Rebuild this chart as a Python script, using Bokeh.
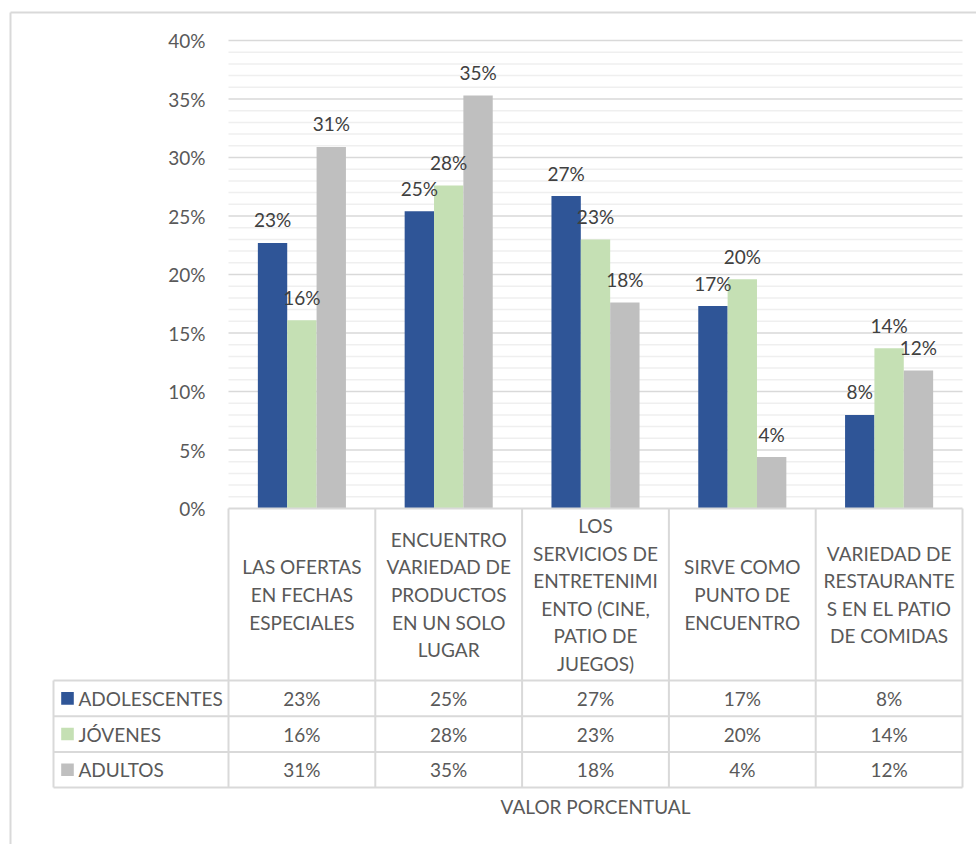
from bokeh.plotting import figure
from bokeh.models import Range1d, LinearAxis, FixedTicker, NumeralTickFormatter, ColumnDataSource
from bokeh.core.properties import value
from bokeh.embed import file_html
from bokeh.resources import INLINE

# ---------------- data ----------------
categories = [
    "LAS OFERTAS\nEN FECHAS\nESPECIALES",
    "ENCUENTRO\nVARIEDAD DE\nPRODUCTOS\nEN UN SOLO\nLUGAR",
    "LOS\nSERVICIOS DE\nENTRETENIMI\nENTO (CINE,\nPATIO DE\nJUEGOS)",
    "SIRVE COMO\nPUNTO DE\nENCUENTRO",
    "VARIEDAD DE\nRESTAURANTE\nS EN EL PATIO\nDE COMIDAS",
]
series_names = ["ADOLESCENTES", "JÓVENES", "ADULTOS"]
adolescentes = [0.227, 0.254, 0.267, 0.173, 0.080]
jovenes = [0.161, 0.276, 0.230, 0.196, 0.137]
adultos = [0.309, 0.353, 0.176, 0.044, 0.118]
y_ticks = [0.0, 0.05, 0.10, 0.15, 0.20, 0.25, 0.30, 0.35, 0.40]
axis_title = "VALOR PORCENTUAL"

series_values = [adolescentes, jovenes, adultos]
colors = ["#2F5597", "#C5E0B4", "#BFBFBF"]

# ---------------- layout constants ----------------
W, H = 976, 844
CAT_PX = 146.8          # pixel width of one category column
PLOT_LEFT = 228         # px of the value axis origin
PLOT_BOTTOM = 508       # px of 0 %
PX_PER_UNIT_Y = 1170.0  # pixels per 100 %

FONT = value("Lato")
TXT = "#595959"
LINE = "#D9D9D9"
FS = "19px"

x_range = Range1d(-PLOT_LEFT / CAT_PX, (W - PLOT_LEFT) / CAT_PX)
y_range = Range1d(-(H - PLOT_BOTTOM) / PX_PER_UNIT_Y, PLOT_BOTTOM / PX_PER_UNIT_Y)

p = figure(width=W, height=H, x_range=x_range, y_range=y_range,
           output_backend="svg", toolbar_location=None,
           x_axis_location=None, y_axis_location=None,
           min_border_left=0, min_border_right=0, min_border_top=0, min_border_bottom=0)
p.outline_line_color = None
p.xgrid.visible = False
p.ygrid.visible = False
# pixel-based helper ranges for table & frame (0 at plot origin, y downward)
p.extra_x_ranges = {"px": Range1d(-PLOT_LEFT, W - PLOT_LEFT)}
p.extra_y_ranges = {"px": Range1d(H - PLOT_BOTTOM, -PLOT_BOTTOM)}

n = len(categories)
cat_center = [i + 0.5 for i in range(n)]

# ---------------- grid lines ----------------
minor_y = [k / 100 for k in range(1, 41) if k % 5 != 0]
major_y = [t for t in y_ticks if t > 0]
p.segment(x0=[0] * len(minor_y), x1=[n] * len(minor_y), y0=minor_y, y1=minor_y,
          line_color="#EFEFEF", line_width=1.5)
p.segment(x0=[0] * len(major_y), x1=[n] * len(major_y), y0=major_y, y1=major_y,
          line_color=LINE, line_width=1.5)

# ---------------- y axis ----------------
yax = LinearAxis(fixed_location=0, ticker=FixedTicker(ticks=y_ticks),
                 formatter=NumeralTickFormatter(format="0%"))
yax.axis_line_color = None
yax.major_tick_line_color = None
yax.minor_tick_line_color = None
yax.major_label_standoff = 17
yax.major_label_text_font = "Lato"
yax.major_label_text_font_size = FS
yax.major_label_text_color = TXT
p.add_layout(yax, "left")

# ---------------- bars ----------------
bar_w = 0.2
offsets = [-0.2, 0.0, 0.2]
for vals, col, off in zip(series_values, colors, offsets):
    src = ColumnDataSource(dict(x=[c + off for c in cat_center], top=vals))
    p.vbar(x="x", top="top", bottom=0, width=bar_w, source=src,
           fill_color=col, line_color=None)
for vals, off in zip(series_values, offsets):
    src = ColumnDataSource(dict(x=[c + off for c in cat_center], top=vals,
                                lab=[f"{v:.0%}" for v in vals]))
    p.text(x="x", y="top", text="lab", source=src, text_align="center",
           text_baseline="middle", y_offset=-23, text_font=FONT,
           text_font_size=FS, text_color="#404040")

# ---------------- data table ----------------
HEADER_H = 172
ROW_H = 35.7
rows_y = [HEADER_H + ROW_H * k for k in range(len(series_names) + 1)]
legend_left_px = -175
table_bottom = rows_y[-1]

# horizontal lines
p.segment(x0=[0], x1=[n], y0=[0], y1=[0], line_color=LINE, line_width=2)
hx0 = [legend_left_px] * len(rows_y)
hx1 = [n * CAT_PX] * len(rows_y)
p.segment(x0=hx0, x1=hx1, y0=rows_y, y1=rows_y, line_color=LINE, line_width=2,
          x_range_name="px", y_range_name="px")
# vertical lines
vx = [c * CAT_PX for c in range(n + 1)]
p.segment(x0=vx, x1=vx, y0=[0] * len(vx), y1=[table_bottom] * len(vx),
          line_color=LINE, line_width=2, x_range_name="px", y_range_name="px")
p.segment(x0=[legend_left_px], x1=[legend_left_px], y0=[rows_y[0]], y1=[table_bottom],
          line_color=LINE, line_width=2, x_range_name="px", y_range_name="px")

# category headers
p.text(x=[c * CAT_PX for c in cat_center], y=[HEADER_H / 2] * n, text=categories,
       text_align="center", text_baseline="middle", text_line_height=1.2,
       text_font=FONT, text_font_size=FS, text_color=TXT,
       x_range_name="px", y_range_name="px")

# rows
row_centers = [(rows_y[k] + rows_y[k + 1]) / 2 for k in range(len(series_names))]
p.rect(x=[-161] * 3, y=row_centers, width=12.6, height=12.6, fill_color=colors,
       line_color=None, x_range_name="px", y_range_name="px")
p.text(x=[-150] * 3, y=row_centers, text=series_names, text_align="left",
       text_baseline="middle", text_font=FONT, text_font_size=FS, text_color=TXT,
       x_range_name="px", y_range_name="px")
for k, vals in enumerate(series_values):
    p.text(x=[c * CAT_PX for c in cat_center], y=[row_centers[k]] * n,
           text=[f"{v:.0%}" for v in vals], text_align="center",
           text_baseline="middle", text_font=FONT, text_font_size=FS, text_color=TXT,
           x_range_name="px", y_range_name="px")

# axis title
p.text(x=[n / 2 * CAT_PX], y=[table_bottom + 19], text=[axis_title], text_align="center",
       text_baseline="middle", text_font=FONT, text_font_size=FS, text_color=TXT,
       x_range_name="px", y_range_name="px")

# chart outer border (left & top)
bx, by = -218, -496
p.segment(x0=[bx, bx], x1=[bx, W], y0=[by, by], y1=[H, by],
          line_color=LINE, line_width=2, x_range_name="px", y_range_name="px")

open("out.html", "w").write(file_html(p, INLINE))
